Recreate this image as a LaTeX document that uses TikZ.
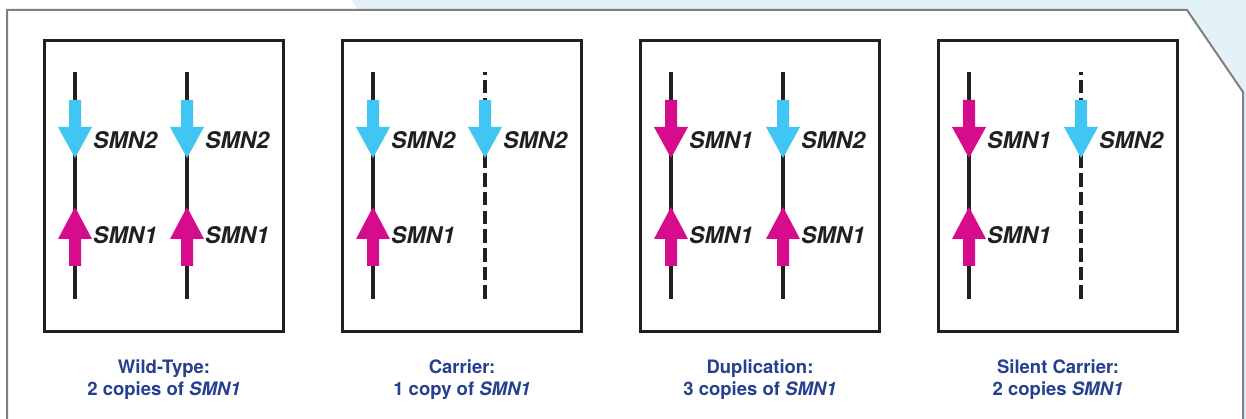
\documentclass[tikz,border=0pt]{standalone}
\usepackage{fontspec}
\setmainfont{TeX Gyre Heros}
\definecolor{bgblue}{HTML}{E3F2F8}
\definecolor{framegray}{HTML}{7F7F7F}
\definecolor{ink}{HTML}{231F20}
\definecolor{smntwo}{HTML}{41C5F2}
\definecolor{smnone}{HTML}{D70C8C}
\definecolor{navy}{HTML}{25408F}
\newcommand\dnarrow[2]{\fill[#2] ({#1-6},100) -- ({#1+6},100) -- ({#1+6},127) -- ({#1+17},127) -- (#1,158) -- ({#1-17},127) -- ({#1-6},127) -- cycle;}
\newcommand\uparr[2]{\fill[#2] ({#1-6},266) -- ({#1+6},266) -- ({#1+6},239) -- ({#1+17},239) -- (#1,207) -- ({#1-17},239) -- ({#1-6},239) -- cycle;}
\begin{document}
\begin{tikzpicture}[x=1pt,y=-1pt,
  panel/.style={draw=ink,line width=3pt,minimum width=239pt,minimum height=290pt,inner sep=0pt},
  chrom/.style={draw=ink,line width=4.2pt},
  chromdash/.style={chrom,dash pattern=on 13.6pt off 5.1pt},
  gene/.style={anchor=west,inner sep=0pt,text=ink,font=\fontsize{23}{25}\selectfont\bfseries\itshape},
  caption/.style={anchor=base,inner sep=0pt,text=navy,font=\fontsize{18.5}{21}\selectfont\bfseries},
  frame/.style={draw=framegray,line width=2pt}]
\useasboundingbox (0,0) rectangle (1246,419);
\fill[white] (0,0) rectangle (1246,419);
\fill[bgblue] (352,0) -- (1246,0) -- (1246,419) -- (1243,419) -- (1243,92) -- (1187,10) -- (358,10) -- cycle;
\draw[frame] (7,419) -- (7,10) -- (1187,10) -- (1243,92) -- (1243,419);

% panels
\node[panel] (p1) at (164,186) {};
\node[panel] (p2) at (462,186) {};
\node[panel] (p3) at (760,186) {};
\node[panel] (p4) at (1058,186) {};

% panel 1: Wild-Type
\draw[chrom] (75,72) -- (75,299);
\draw[chrom] (187,72) -- (187,299);
\dnarrow{75}{smntwo}\uparr{75}{smnone}
\dnarrow{187}{smntwo}\uparr{187}{smnone}
\node[gene] (g1a) at (93,140) {SMN2};
\node[gene] (g1b) at (93,235) {SMN1};
\node[gene] (g1c) at (205,140) {SMN2};
\node[gene] (g1d) at (205,235) {SMN1};

% panel 2: Carrier
\draw[chrom] (373,72) -- (373,299);
\draw[chromdash] (485,299) -- (485,72);
\dnarrow{373}{smntwo}\uparr{373}{smnone}
\dnarrow{485}{smntwo}
\node[gene] (g2a) at (391,140) {SMN2};
\node[gene] (g2b) at (391,235) {SMN1};
\node[gene] (g2c) at (503,140) {SMN2};

% panel 3: Duplication
\draw[chrom] (671,72) -- (671,299);
\draw[chrom] (783,72) -- (783,299);
\dnarrow{671}{smnone}\uparr{671}{smnone}
\dnarrow{783}{smntwo}\uparr{783}{smnone}
\node[gene] (g3a) at (689,140) {SMN1};
\node[gene] (g3b) at (689,235) {SMN1};
\node[gene] (g3c) at (801,140) {SMN2};
\node[gene] (g3d) at (801,235) {SMN1};

% panel 4: Silent Carrier
\draw[chrom] (969,72) -- (969,299);
\draw[chromdash] (1081,299) -- (1081,72);
\dnarrow{969}{smnone}\uparr{969}{smnone}
\dnarrow{1081}{smntwo}
\node[gene] (g4a) at (987,140) {SMN1};
\node[gene] (g4b) at (987,235) {SMN1};
\node[gene] (g4c) at (1099,140) {SMN2};

% captions
\node[caption] (c1a) at (164,373) {Wild-Type:};
\node[caption] (c1b) at (164,395) {2 copies of \textit{SMN1}};
\node[caption] (c2a) at (462,373) {Carrier:};
\node[caption] (c2b) at (462,395) {1 copy of \textit{SMN1}};
\node[caption] (c3a) at (760,373) {Duplication:};
\node[caption] (c3b) at (760,395) {3 copies of \textit{SMN1}};
\node[caption] (c4a) at (1058,373) {Silent Carrier:};
\node[caption] (c4b) at (1058,395) {2 copies \textit{SMN1}};
\end{tikzpicture}
\end{document}
